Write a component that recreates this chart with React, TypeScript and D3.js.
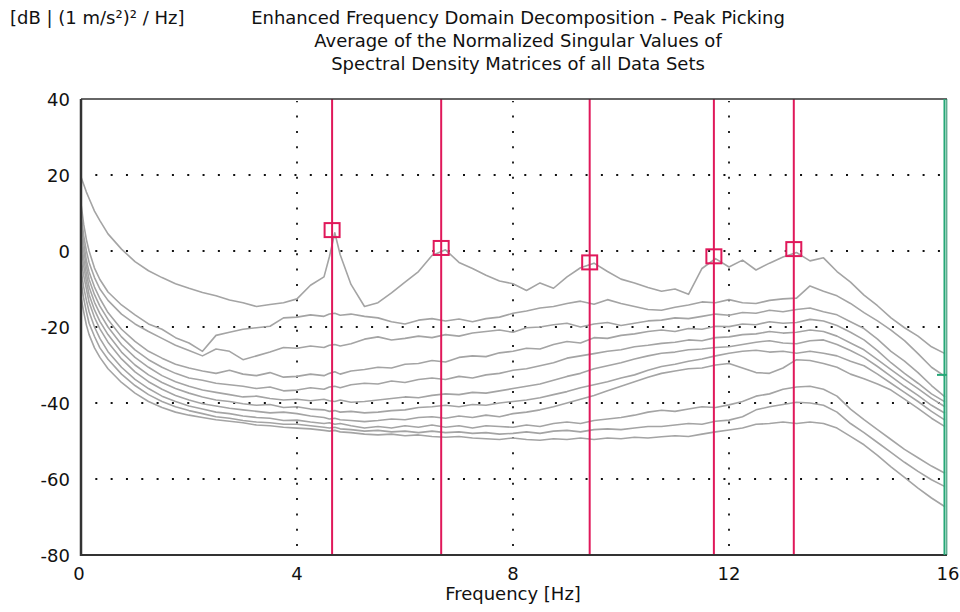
import React from 'react';
import * as d3 from 'd3';

// Frequency grid (Hz) shared by all singular-value curves
const freqs = [
  0, 0.05, 0.1, 0.15, 0.25, 0.35, 0.5, 0.75, 1.0, 1.25, 1.5, 1.75, 2.0, 2.25, 2.5, 2.75,
  3.0, 3.25, 3.5, 3.75, 4.0, 4.25, 4.5, 4.6, 4.7, 4.8, 5.0, 5.25, 5.5, 5.75, 6.0, 6.25,
  6.5, 6.75, 7.0, 7.25, 7.5, 7.75, 8.0, 8.25, 8.5, 8.75, 9.0, 9.25, 9.5, 9.75, 10.0, 10.25,
  10.5, 10.75, 11.0, 11.25, 11.5, 11.75, 12.0, 12.25, 12.5, 12.75, 13.0, 13.25, 13.5, 13.75,
  14.0, 14.25, 14.5, 14.75, 15.0, 15.25, 15.5, 15.75, 16.0,
];

// Normalized singular values [dB]
const sv1 = [
  19.5, 17.5, 15.5, 13.8, 10.5, 8, 4.5, 0.5, -2.8, -5.2, -7.0, -8.6, -9.8, -10.9, -11.8, -12.9,
  -13.6, -14.6, -14.1, -13.6, -12.6, -9.0, -6.8, -1.5, 4.8, -1.0, -8.8, -14.6, -13.6, -11.0, -8.2, -5.4,
  -1.2, 0.3, -3.0, -4.6, -6.4, -7.9, -8.6, -10.4, -8.4, -9.8, -6.8, -4.4, -3.2, -5.4, -7.4, -8.4,
  -9.6, -10.6, -10.0, -11.4, -4.6, -2.0, -4.2, -2.4, -5.0, -3.2, -1.6, -0.4, -2.6, -1.8,
  -5.4, -8.2, -11.6, -14.4, -17.6, -20.2, -22.4, -25.2, -27.0,
];
const sv2 = [
  12.5, 7, 3, 0, -4.5, -7.5, -10.8, -14.2, -16.8, -19.2, -20.6, -22.8, -24.2, -26.4, -22.2, -21.4,
  -20.6, -20.2, -19.8, -17.6, -17.4, -16.8, -17.2, -16.6, -16.4, -16.9, -16.6, -17.2, -17.6, -18.6, -19.2, -18.2,
  -17.8, -18.4, -17.9, -18.6, -17.8, -17.4, -16.4, -15.8, -15.0, -14.6, -13.8, -13.2, -14.0, -12.8, -13.8, -14.6,
  -15.4, -15.6, -14.8, -14.2, -13.4, -13.6, -12.8, -13.6, -13.8, -13.0, -12.6, -12.4, -9.2, -10.6,
  -11.8, -13.8, -16.2, -18.4, -20.8, -23.6, -27.0, -30.6, -33.0,
];
const sv3 = [
  10, 4, 0, -3, -7, -10, -13, -16.6, -19.2, -21.2, -23.0, -24.8, -26.2, -27.6, -25.8, -26.4,
  -28.6, -27.6, -26.6, -25.4, -25.6, -25.0, -25.4, -24.8, -24.6, -25.0, -24.4, -23.2, -22.6, -23.4, -23.0, -22.4,
  -22.8, -22.0, -22.4, -21.6, -21.2, -20.8, -21.4, -20.2, -20.0, -19.4, -19.0, -20.0, -19.2, -18.8, -19.6, -19.0,
  -18.4, -18.2, -17.6, -17.8, -17.2, -16.6, -16.9, -16.2, -16.4, -15.6, -16.0, -15.4, -15.0, -16.0,
  -16.8, -18.6, -20.4, -23.2, -26.4, -29.0, -32.0, -35.4, -38.4,
];
const sv4 = [
  8, 2, -2.5, -5.5, -9.5, -12.5, -16.2, -20.6, -23.8, -26.4, -28.2, -29.8, -30.8, -31.6, -32.2, -31.4,
  -32.4, -32.8, -32.0, -33.2, -33.0, -32.4, -32.8, -32.2, -31.8, -32.4, -31.6, -31.2, -30.6, -30.8, -29.8, -29.6,
  -28.8, -29.2, -28.0, -27.6, -27.8, -26.8, -26.4, -25.6, -25.8, -24.6, -23.8, -24.2, -22.8, -23.0, -22.2, -21.8,
  -21.2, -20.8, -21.2, -20.4, -20.6, -19.8, -19.9, -19.2, -19.4, -18.6, -19.0, -18.8, -18.0, -18.4,
  -19.6, -21.4, -23.4, -26.2, -29.4, -32.2, -34.8, -37.6, -39.7,
];
const sv5 = [
  5, 0, -4, -7.5, -11.5, -14.5, -18, -22.6, -26.0, -28.6, -30.6, -32.2, -33.4, -34.0, -34.8, -35.2,
  -35.6, -36.2, -35.8, -36.8, -36.6, -36.0, -36.4, -35.8, -35.6, -36.0, -35.2, -34.8, -35.0, -34.2, -34.6, -33.8,
  -33.4, -33.8, -33.0, -33.4, -32.6, -32.2, -31.4, -31.0, -30.2, -29.4, -28.2, -27.6, -27.0, -26.4, -26.0, -25.2,
  -24.8, -24.3, -24.0, -23.4, -23.6, -22.8, -22.6, -22.0, -21.8, -21.2, -21.6, -21.4, -20.8, -21.2,
  -22.4, -24.2, -26.0, -28.6, -31.2, -33.8, -36.2, -38.8, -41.0,
];
const sv6 = [
  3, -2, -6, -9.5, -13.5, -16.5, -20, -24.6, -28.0, -30.6, -32.8, -34.4, -35.6, -36.6, -37.2, -37.8,
  -38.4, -38.2, -38.8, -39.2, -39.0, -39.4, -39.0, -39.4, -39.6, -39.2, -39.8, -39.6, -39.2, -38.8, -38.4, -38.6,
  -38.0, -37.6, -37.8, -37.2, -37.4, -36.8, -36.2, -35.6, -35.0, -34.0, -33.0, -32.2, -31.0, -30.2, -29.4, -28.4,
  -27.6, -26.9, -26.6, -26.0, -25.8, -25.4, -25.2, -24.6, -24.0, -23.6, -24.2, -24.4, -23.6, -23.4,
  -24.6, -26.2, -28.0, -30.4, -33.0, -35.6, -38.0, -40.6, -42.7,
];
const sv7 = [
  1, -4, -8, -11.5, -15.5, -18.5, -22, -26.6, -30.0, -32.6, -34.6, -36.2, -37.4, -38.4, -39.2, -39.6,
  -40.2, -40.6, -40.4, -41.2, -41.0, -41.6, -41.8, -42.2, -42.0, -42.4, -42.2, -42.6, -42.4, -42.0, -41.8, -41.2,
  -41.0, -40.6, -41.0, -40.4, -40.6, -40.0, -39.6, -39.2, -38.6, -37.8, -37.0, -36.0, -35.2, -34.4, -33.4, -32.6,
  -31.4, -30.4, -29.8, -29.0, -28.4, -27.6, -26.9, -26.4, -26.1, -26.6, -26.4, -26.9, -26.4, -26.9,
  -27.6, -29.0, -30.2, -32.4, -34.8, -37.2, -39.6, -42.2, -44.5,
];
const sv8 = [
  -2, -6.5, -10, -13.5, -17.5, -20.5, -24, -28.4, -31.8, -34.4, -36.4, -38.0, -39.2, -40.2, -40.8, -41.4,
  -41.8, -42.2, -42.6, -42.4, -42.8, -43.4, -43.8, -44.2, -44.0, -44.4, -44.6, -44.9, -44.6, -44.2, -44.4, -43.8,
  -43.6, -44.0, -43.4, -43.8, -43.2, -43.6, -42.8, -42.4, -41.8, -41.0, -40.0, -39.0, -38.0, -36.8, -35.6, -34.4,
  -33.2, -32.2, -31.6, -31.0, -30.8, -30.0, -29.6, -30.8, -32.0, -32.2, -30.8, -28.6, -28.8, -29.6,
  -30.6, -32.4, -33.6, -35.0, -36.6, -39.0, -41.4, -44.0, -46.2,
];
const sv9 = [
  -5, -9.5, -13, -16, -20, -23, -26.5, -30.6, -33.8, -36.2, -38.2, -39.6, -40.8, -41.6, -42.4, -42.8,
  -43.4, -43.8, -44.0, -44.6, -44.5, -45.0, -45.4, -45.2, -45.6, -45.4, -46.0, -46.6, -46.2, -46.6, -46.0, -46.4,
  -45.8, -46.4, -46.0, -46.6, -46.0, -46.2, -46.4, -45.8, -46.2, -45.4, -45.0, -45.4, -44.6, -44.2, -43.8, -43.2,
  -42.4, -41.9, -42.2, -41.6, -41.0, -41.2, -40.5, -39.6, -38.2, -37.6, -36.4, -35.8, -35.6, -36.4,
  -38.2, -41.6, -44.4, -47.0, -49.6, -52.2, -54.4, -56.6, -58.5,
];
const sv10 = [
  -8, -12.5, -16, -19, -22.5, -25.5, -28.5, -32.4, -35.4, -37.8, -39.6, -41.0, -42.0, -42.8, -43.6, -44.0,
  -44.6, -45.0, -45.2, -45.6, -45.6, -46.0, -46.4, -46.6, -46.4, -46.8, -47.0, -47.4, -47.2, -47.6, -47.4, -47.8,
  -47.4, -47.8, -47.6, -48.0, -47.8, -48.2, -48.0, -47.6, -48.0, -47.4, -47.2, -47.6, -47.0, -46.8, -47.0, -46.6,
  -46.2, -46.2, -45.8, -45.4, -45.6, -44.8, -44.5, -43.6, -41.8, -41.0, -40.4, -39.8, -40.0, -40.6,
  -42.4, -45.4, -47.8, -50.4, -53.0, -55.6, -58.0, -60.2, -62.0,
];
const sv11 = [
  -12, -16, -19.5, -22, -25.5, -28, -31, -34.6, -37.4, -39.6, -41.2, -42.4, -43.2, -43.8, -44.4, -44.8,
  -45.2, -45.8, -46.0, -46.4, -46.6, -46.8, -47.2, -47.4, -47.2, -47.6, -47.8, -48.2, -48.4, -48.2, -48.6, -48.4,
  -48.8, -49.0, -48.8, -49.2, -49.4, -49.6, -49.2, -49.6, -49.8, -49.4, -49.6, -49.2, -49.6, -49.2, -49.4, -49.0,
  -49.2, -48.9, -48.6, -48.8, -48.2, -47.6, -47.1, -46.6, -45.6, -45.4, -45.0, -45.4, -45.0, -45.4,
  -46.6, -48.8, -51.0, -53.8, -56.8, -59.6, -62.4, -65.0, -67.3,
];
const curves = [sv11, sv10, sv9, sv8, sv7, sv6, sv5, sv4, sv3, sv2, sv1];

// Picked peaks
const peakFreqs = [4.65, 6.67, 9.42, 11.72, 13.2];
const peakDb = [5.5, 0.8, -3.0, -1.4, 0.5];

// Cursor mark at the right edge
const cursorFreq = 16;
const cursorDb = -32.6;

const xTicks = [0, 4, 8, 12, 16];
const yTicks = [40, 20, 0, -20, -40, -60, -80];
const xGrid = [4, 8, 12];
const yGrid = [20, 0, -20, -40, -60];

const titleLines = [
  'Enhanced Frequency Domain Decomposition - Peak Picking',
  'Average of the Normalized Singular Values of',
  'Spectral Density Matrices of all Data Sets',
];
const yUnit = '[dB | (1 m/s\u00B2)\u00B2 / Hz]';
const xTitle = 'Frequency [Hz]';

const W = 960;
const H = 612;
const FONT = "'DejaVu Sans', sans-serif";
const RED = '#e0185a';
const GREEN = '#25a877';
const GRAY = '#a4a4a4';
const FRAME = '#333333';

export default function App() {
  const x = d3.scaleLinear().domain([0, 16]).range([81, 945]);
  const y = d3.scaleLinear().domain([-80, 40]).range([555, 99]);
  const line = d3
    .line<number>()
    .x((_, i) => x(freqs[i]))
    .y((d) => y(d));

  const hSpacing = 15.32;
  const vSpacing = 15.3;

  return (
    <svg
      width={W}
      height={H}
      style={{ position: 'absolute', left: 0, top: 0, background: '#fff' }}
      fontFamily={FONT}
    >
      <rect x={0} y={0} width={W} height={H} fill="#fff" />

      {/* dotted grid */}
      {yGrid.map((v) => (
        <line
          key={'hg' + v}
          x1={x(0) + hSpacing - 1}
          x2={x(16) - 2}
          y1={y(v)}
          y2={y(v)}
          stroke="#111"
          strokeWidth={1.8}
          strokeDasharray={`2 ${hSpacing - 2}`}
        />
      ))}
      {xGrid.map((v) => (
        <line
          key={'vg' + v}
          x1={x(v)}
          x2={x(v)}
          y1={y(-80) - 9}
          y2={y(40) + 2}
          stroke="#111"
          strokeWidth={1.8}
          strokeDasharray={`2 ${vSpacing - 2}`}
        />
      ))}

      {/* singular value curves */}
      {curves.map((c, i) => (
        <path
          key={'c' + i}
          d={line(c) || ''}
          fill="none"
          stroke={GRAY}
          strokeWidth={1.6}
          strokeLinejoin="round"
        />
      ))}

      {/* peak lines and markers */}
      {peakFreqs.map((f, i) => (
        <g key={'pk' + i}>
          <line x1={x(f)} x2={x(f)} y1={y(40)} y2={y(-80)} stroke={RED} strokeWidth={2} />
          <rect
            x={x(f) - 7.5}
            y={y(peakDb[i]) - 7}
            width={15}
            height={14}
            fill="none"
            stroke={RED}
            strokeWidth={2}
          />
        </g>
      ))}

      {/* frame */}
      <line x1={x(0)} x2={x(16) + 2} y1={y(40)} y2={y(40)} stroke={FRAME} strokeWidth={1.6} />
      <line x1={x(0)} x2={x(16) + 2} y1={y(-80)} y2={y(-80)} stroke={FRAME} strokeWidth={2} />
      <line x1={x(0)} x2={x(0)} y1={y(40)} y2={y(-80) + 1} stroke={FRAME} strokeWidth={2.5} />
      <line x1={x(16) - 0.5} x2={x(16) - 0.5} y1={y(40)} y2={y(-80)} stroke={GREEN} strokeWidth={2} />
      <line x1={x(16) + 1.8} x2={x(16) + 1.8} y1={y(40)} y2={y(-80)} stroke="#1f8a63" strokeWidth={1} />
      <line
        x1={x(cursorFreq) - 8}
        x2={x(cursorFreq) + 2}
        y1={y(cursorDb)}
        y2={y(cursorDb)}
        stroke={GREEN}
        strokeWidth={2}
      />

      {/* y tick labels */}
      {yTicks.map((v) => (
        <text
          key={'yt' + v}
          x={70}
          y={y(v) + 6.5}
          textAnchor="end"
          fontSize={18}
          fill="#111"
        >
          {v}
        </text>
      ))}
      {/* x tick labels */}
      {xTicks.map((v) => (
        <text
          key={'xt' + v}
          x={x(v) + (v === 16 ? 3 : v === 0 ? -2 : 0)}
          y={580}
          textAnchor="middle"
          fontSize={18}
          fill="#111"
        >
          {v}
        </text>
      ))}
      <text x={513} y={600} textAnchor="middle" fontSize={18} fill="#111">
        {xTitle}
      </text>

      {/* titles */}
      <text x={10} y={24} fontSize={18} fill="#111">
        {yUnit}
      </text>
      {titleLines.map((t, i) => (
        <text key={'t' + i} x={518} y={24 + i * 23} textAnchor="middle" fontSize={18} fill="#111">
          {t}
        </text>
      ))}
    </svg>
  );
}
